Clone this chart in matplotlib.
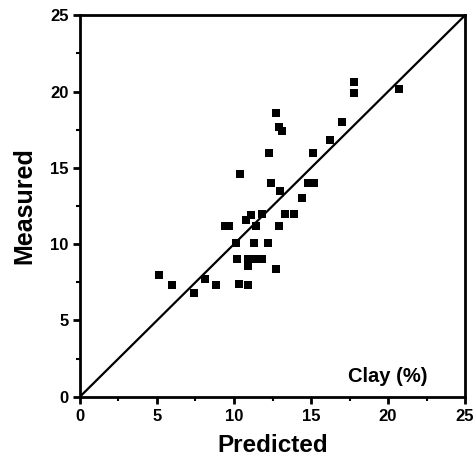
import matplotlib
matplotlib.use("Agg")
import matplotlib.pyplot as plt
from matplotlib.ticker import MultipleLocator

predicted = [5.1, 6.0, 7.4, 8.1, 8.8, 10.3, 10.9, 10.2, 10.9, 11.4, 11.8, 10.9, 12.7,
             10.1, 11.3, 12.2, 9.4, 9.7, 10.8, 11.1, 11.4, 11.8, 12.9, 13.3, 13.9,
             13.0, 14.4, 12.4, 14.8, 15.2, 10.4, 12.3, 15.1, 16.2, 17.0, 12.7, 12.9,
             13.1, 17.8, 17.8, 20.7]
measured = [8.0, 7.3, 6.8, 7.7, 7.3, 7.4, 7.3, 9.0, 9.0, 9.0, 9.0, 8.6, 8.4,
            10.1, 10.1, 10.1, 11.2, 11.2, 11.6, 11.9, 11.2, 12.0, 11.2, 12.0, 12.0,
            13.5, 13.0, 14.0, 14.0, 14.0, 14.6, 16.0, 16.0, 16.8, 18.0, 18.6, 17.7,
            17.4, 20.6, 19.9, 20.2]
ticks = [0, 5, 10, 15, 20, 25]

plt.rcParams['font.family'] = ['Liberation Sans', 'DejaVu Sans']
plt.rcParams['font.weight'] = 'bold'

fig = plt.figure(figsize=(4.76, 4.59), dpi=100)
ax = fig.add_axes([0.168, 0.1357, 0.809, 0.831])

ax.plot([0, 25], [0, 25], color='black', lw=1.6, zorder=2)
ax.scatter(predicted, measured, marker='s', s=32, color='black', zorder=3, linewidths=0)

ax.set_xlim(0, 25)
ax.set_ylim(0, 25)
ax.set_xticks(ticks)
ax.set_yticks(ticks)
ax.xaxis.set_minor_locator(MultipleLocator(2.5))
ax.yaxis.set_minor_locator(MultipleLocator(2.5))
ax.tick_params(which='major', direction='out', length=5, width=2, labelsize=12)
ax.tick_params(axis='x', which='major', pad=4)
ax.tick_params(axis='y', which='major', pad=3)
ax.tick_params(which='minor', direction='out', length=3, width=1.5)
for lab in ax.get_xticklabels() + ax.get_yticklabels():
    lab.set_fontweight('bold')
for s in ax.spines.values():
    s.set_linewidth(2)

ax.set_xlabel('Predicted', fontsize=17.5, fontweight='bold', labelpad=7)
ax.set_ylabel('Measured', fontsize=18, fontweight='bold', labelpad=10)
ax.text(427, 459 - 377, 'Clay (%)', transform=None, ha='right', va='center',
        fontsize=14.5, fontweight='bold')

fig.savefig('out.png', dpi=100)
